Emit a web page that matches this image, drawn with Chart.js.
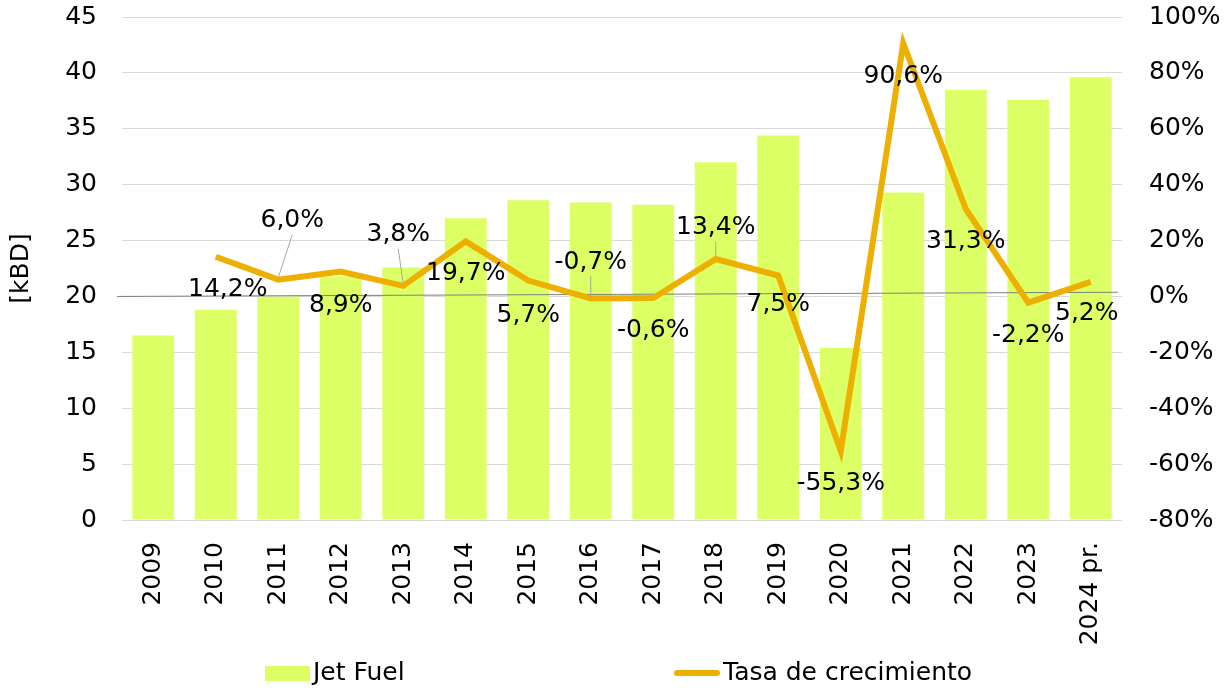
<!DOCTYPE html>
<html>
<head>
<meta charset="utf-8">
<script src="https://cdn.jsdelivr.net/npm/chart.js@4"></script>
<style>
  body { margin: 0; background: #fff; }
  #wrap { position: relative; width: 1229px; height: 690px; }
  #legend { position: absolute; top: 657px; left: 0; width: 1229px; height: 30px;
            font-family: "DejaVu Sans", Verdana, sans-serif; font-size: 25px; color: #000; }
  .item { position: absolute; top: 0; line-height: 30px; white-space: nowrap; }
  .box { display: inline-block; vertical-align: middle; margin-right: 3px; }
</style>
</head>
<body>
<div id="wrap">
  <canvas id="myChart" width="1229" height="690"></canvas>
  <div id="legend">
    <div class="item" style="left:265px"><span class="box" style="width:45px;height:15px;background:rgb(221,255,102)"></span>Jet Fuel</div>
    <div class="item" style="left:674px"><span class="box" style="width:46px;height:6px;border-radius:3px;background:rgb(237,176,0)"></span>Tasa de crecimiento</div>
  </div>
</div>
<script>
const years = ['2009', '2010', '2011', '2012', '2013', '2014', '2015', '2016', '2017', '2018', '2019', '2020', '2021', '2022', '2023', '2024 pr.'];
const jetFuel = [16.5, 18.8, 20.0, 21.8, 22.6, 27.0, 28.6, 28.4, 28.2, 32.0, 34.4, 15.4, 29.3, 38.5, 37.6, 39.6];
const growth = [null, 14.2, 6.0, 8.9, 3.8, 19.7, 5.7, -0.7, -0.6, 13.4, 7.5, -55.3, 90.6, 31.3, -2.2, 5.2];

// label offsets from the point [dx, dy, leader line]
const labelPos = [
    null, [12, 33, false], [14, -59, true], [0, 34, false], [-5, -51, true], [0, 32, false],
    [0, 35, false], [0, -36, true], [0, 32, false], [0, -31, true], [0, 29, false],
    [0, 33, false], [0, 33, false], [0, 33, false], [0, 33, false], [-4, 32, false]
];

const font = { family: '"DejaVu Sans", Verdana, sans-serif', size: 25 };

const zeroLine = {
    id: 'zeroLine',
    afterDatasetDraw(chart, args) {
        if (args.index !== 0) return;
        const c = chart.ctx, a = chart.chartArea, y1 = chart.scales.y1;
        c.save();
        c.strokeStyle = '#7f7f7f';
        c.lineWidth = 1;
        c.beginPath();
        c.moveTo(a.left - 5, y1.getPixelForValue(0));
        c.lineTo(a.right - 4, y1.getPixelForValue(1.5));
        c.stroke();
        c.restore();
    }
};

const pointLabels = {
    id: 'pointLabels',
    afterDatasetsDraw(chart) {
        const c = chart.ctx;
        const meta = chart.getDatasetMeta(1);
        c.save();
        c.font = font.size + 'px ' + font.family;
        c.fillStyle = '#000';
        c.textAlign = 'center';
        c.textBaseline = 'middle';
        growth.forEach((v, i) => {
            if (v == null) return;
            const p = meta.data[i];
            const [dx, dy, lead] = labelPos[i];
            const x = p.x + dx, y = p.y + dy;
            if (lead) {
                c.strokeStyle = '#a6a6a6';
                c.lineWidth = 1;
                c.beginPath();
                c.moveTo(p.x, p.y - 2);
                c.lineTo(x, y + 14);
                c.stroke();
            }
            c.fillText(v.toFixed(1).replace('.', ',') + '%', x, y);
        });
        c.restore();
    }
};

const ctx = document.getElementById('myChart');
new Chart(ctx, {
    data: {
        labels: years,
        datasets: [{
            type: 'bar',
            label: 'Jet Fuel',
            data: jetFuel,
            backgroundColor: 'rgb(221,255,102)',
            barPercentage: 0.67,
            categoryPercentage: 1,
            yAxisID: 'y',
            order: 1
        }, {
            type: 'line',
            label: 'Tasa de crecimiento',
            data: growth,
            borderColor: 'rgb(237,176,0)',
            borderWidth: 6,
            pointRadius: 0,
            tension: 0,
            yAxisID: 'y1',
            order: 0
        }]
    },
    options: {
        responsive: false,
        animation: false,
        layout: { padding: { top: 17, bottom: 40, left: 0, right: 0 } },
        plugins: {
            legend: { display: false },
            tooltip: { enabled: false }
        },
        scales: {
            x: {
                grid: { display: false },
                border: { display: false },
                ticks: { font: font, color: '#000', minRotation: 90, maxRotation: 90, autoSkip: false, padding: 14 },
                afterFit(s) { s.height = 130; }
            },
            y: {
                position: 'left',
                min: 0,
                max: 45,
                ticks: { stepSize: 5, font: font, color: '#000', padding: 0 },
                grid: { color: '#d9d9d9', drawTicks: true, tickLength: 25, tickColor: 'transparent' },
                border: { display: false },
                title: { display: true, text: '[kBD]', font: font, color: '#000', padding: { top: 6, bottom: 0 } },
                afterFit(s) { s.width = 122; }
            },
            y1: {
                position: 'right',
                min: -80,
                max: 100,
                ticks: { stepSize: 20, font: font, color: '#000', padding: 0, callback: v => v + '%' },
                grid: { drawOnChartArea: false, drawTicks: true, tickLength: 27, tickColor: 'transparent' },
                border: { display: false },
                afterFit(s) { s.width = 107; }
            }
        }
    },
    plugins: [zeroLine, pointLabels]
});
</script>
</body>
</html>
